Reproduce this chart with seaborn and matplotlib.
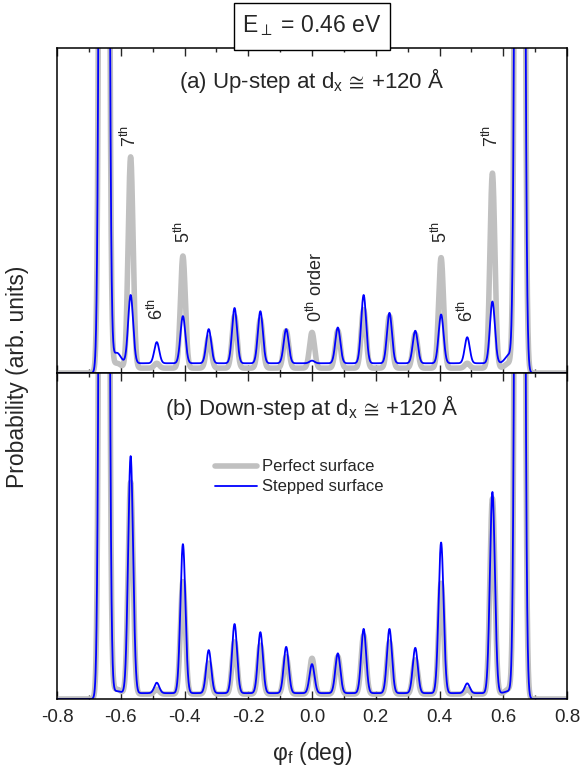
import numpy as np
import pandas as pd
import matplotlib
matplotlib.use("Agg")
import matplotlib.pyplot as plt
from matplotlib.ticker import MultipleLocator
from matplotlib.patches import Rectangle
import seaborn as sns

# ---------------- data ----------------
# diffraction orders and their angular positions (deg)
peak_orders = [-8, -7, -6, -5, -4, -3, -2, -1, 0, 1, 2, 3, 4, 5, 6, 7, 8]
peak_positions = [-0.652, -0.569, -0.487, -0.405, -0.324, -0.243, -0.162, -0.081, 0.0,
                  0.081, 0.162, 0.243, 0.324, 0.405, 0.487, 0.566, 0.652]
# peak tops (arb. units, panel height = 1)
perfect_tops = [10.0, 0.665, 0.03, 0.36, 0.11, 0.175, 0.165, 0.13, 0.125,
                0.13, 0.195, 0.175, 0.12, 0.355, 0.03, 0.615, 10.0]
stepped_up_tops = [10.0, 0.24, 0.095, 0.175, 0.135, 0.20, 0.19, 0.135, 0.038,
                   0.14, 0.24, 0.185, 0.13, 0.18, 0.11, 0.22, 10.0]
stepped_down_tops = [10.0, 0.745, 0.05, 0.475, 0.15, 0.23, 0.205, 0.16, 0.107,
                     0.14, 0.215, 0.215, 0.157, 0.48, 0.048, 0.635, 10.0]
# flat background inside the specular window
perfect_background = 0.015
stepped_up_background = 0.03
stepped_down_background = 0.018
# small ledges next to the big rainbow peaks
ledge_positions = [-0.612, 0.618]
perfect_ledges = [0.015, 0.015]
stepped_up_ledges = [0.032, 0.025]
stepped_down_ledges = [0.006, 0.006]

order_labels = ["7$^{\\rm th}$", "6$^{\\rm th}$", "5$^{\\rm th}$", "0$^{\\rm th}$ order",
                "5$^{\\rm th}$", "6$^{\\rm th}$", "7$^{\\rm th}$"]
order_label_x = [-0.572, -0.486, -0.402, 0.012, 0.405, 0.486, 0.563]
order_label_y = [0.695, 0.163, 0.40, 0.157, 0.40, 0.157, 0.695]

x_ticks = [-0.8, -0.6, -0.4, -0.2, 0.0, 0.2, 0.4, 0.6, 0.8]
x_ticklabels = ["-0.8", "-0.6", "-0.4", "-0.2", "0.0", "0.2", "0.4", "0.6", "0.8"]

PEAK_SIGMA = 0.0078
BIG_SIGMA = 0.0087
LEDGE_SIGMA = 0.012
WINDOW_EDGE = 0.66

# ---------------- curve construction ----------------
phi = np.linspace(-0.8, 0.8, 6401)
window = 1.0 / (1.0 + np.exp((np.abs(phi) - WINDOW_EDGE) / 0.002))


def build_curve(tops, background, ledges):
    y = background * window
    for pos, top, order in zip(peak_positions, tops, peak_orders):
        s = BIG_SIGMA if abs(order) == 8 else PEAK_SIGMA
        amp = max(top - background, 0.0)
        y = y + amp * np.exp(-0.5 * ((phi - pos) / s) ** 2)
    for pos, h in zip(ledge_positions, ledges):
        y = y + h * np.exp(-0.5 * ((phi - pos) / LEDGE_SIGMA) ** 2)
    return y


df_up = pd.DataFrame({
    "phi": phi,
    "perfect": build_curve(perfect_tops, perfect_background, perfect_ledges),
    "stepped": build_curve(stepped_up_tops, stepped_up_background, stepped_up_ledges),
})
df_down = pd.DataFrame({
    "phi": phi,
    "perfect": build_curve(perfect_tops, perfect_background, perfect_ledges),
    "stepped": build_curve(stepped_down_tops, stepped_down_background, stepped_down_ledges),
})

# ---------------- style ----------------
sns.set_style("ticks")
plt.rcParams["font.family"] = ["Liberation Sans", "DejaVu Sans"]
plt.rcParams["mathtext.fontset"] = "custom"
plt.rcParams["mathtext.rm"] = "Liberation Sans"
plt.rcParams["mathtext.it"] = "Liberation Sans:italic"
plt.rcParams["mathtext.bf"] = "Liberation Sans:bold"
plt.rcParams["mathtext.default"] = "regular"
plt.rcParams["mathtext.fallback"] = "stixsans"
plt.rcParams["axes.linewidth"] = 1.1

GRAY = "#c0c0c0"
BLUE = "#0000ff"

fig = plt.figure(figsize=(5.8, 7.69), dpi=100)
ax1 = fig.add_axes([57 / 580, 396 / 769, 510 / 580, 325 / 769])
ax2 = fig.add_axes([57 / 580, 70 / 769, 510 / 580, 326 / 769])

for ax, df in ((ax1, df_up), (ax2, df_down)):
    sns.lineplot(data=df, x="phi", y="perfect", ax=ax, color=GRAY, lw=4.0,
                 estimator=None, sort=False, label="Perfect surface")
    sns.lineplot(data=df, x="phi", y="stepped", ax=ax, color=BLUE, lw=1.3,
                 estimator=None, sort=False, label="Stepped surface")
    ax.set_xlim(-0.8, 0.8)
    ax.set_ylim(0, 1)
    ax.set_yticks([])
    ax.set_ylabel("")
    ax.set_xlabel("")
    ax.set_xticks(x_ticks)
    ax.xaxis.set_minor_locator(MultipleLocator(0.1))
    ax.tick_params(axis="x", which="both", direction="in", top=True, bottom=True,
                   width=1.0, labelsize=13.5, pad=7)
    ax.tick_params(axis="x", which="major", length=5.5)
    ax.tick_params(axis="x", which="minor", length=3)
    for sp in ax.spines.values():
        sp.set_visible(True)
        sp.set_linewidth(1.1)
        sp.set_color("black")

ax1.get_legend().remove()
ax1.set_xticklabels([])
ax2.set_xticklabels(x_ticklabels)

ax2.legend(loc="upper left", bbox_to_anchor=(0.31, 0.735), frameon=False,
           fontsize=12, handlelength=2.5, handletextpad=0.3, labelspacing=0.3,
           borderpad=0, borderaxespad=0)

ax1.text(0.5, 0.90, "(a) Up-step at d$_{\\rm x}\\,\\cong\\,$+120 Å", transform=ax1.transAxes,
         ha="center", va="center", fontsize=16)
ax2.text(0.5, 0.895, "(b) Down-step at d$_{\\rm x}\\,\\cong\\,$+120 Å", transform=ax2.transAxes,
         ha="center", va="center", fontsize=16)

for lab, lx, ly in zip(order_labels, order_label_x, order_label_y):
    ax1.text(lx, ly, lab, rotation=90, ha="center", va="bottom", fontsize=13)

ax2.set_xlabel("φ$_{\\rm f}$ (deg)", fontsize=16.5, labelpad=10)
fig.text(0.031, 0.51, "Probability (arb. units)", rotation=90, ha="center",
         va="center", fontsize=16.5)

# boxed energy label
fig.patches.append(Rectangle((234 / 580, 719 / 769), 156 / 580, 47 / 769,
                             transform=fig.transFigure, fill=True, fc="white",
                             ec="black", lw=1.0))
fig.text(312 / 580, 743 / 769, "E$_{\\perp}$ = 0.46 eV", ha="center", va="center",
         fontsize=16.5)

fig.savefig("out.png", dpi=100)
